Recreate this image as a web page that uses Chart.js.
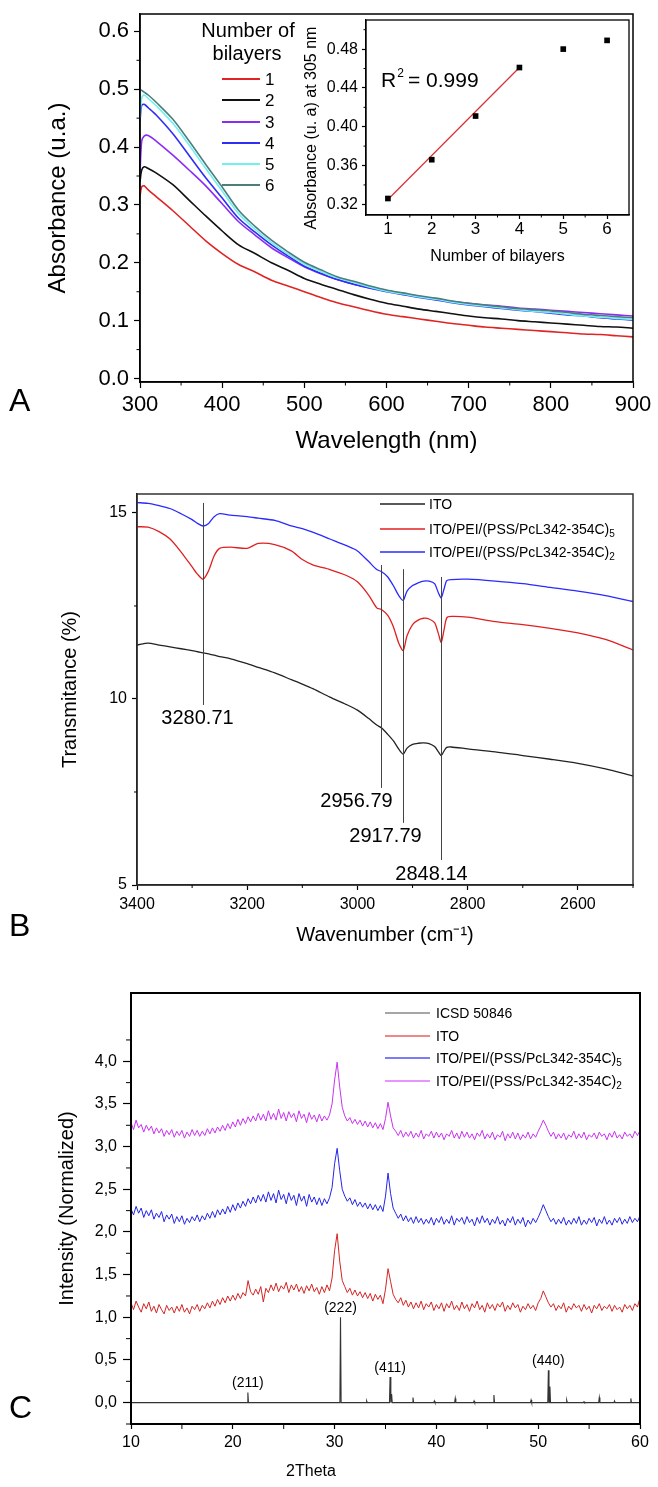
<!DOCTYPE html>
<html>
<head>
<meta charset="utf-8">
<script src="https://cdn.jsdelivr.net/npm/chart.js@4.4.1/dist/chart.umd.min.js"></script>
<style>
  body { margin: 0; background: #fff; width: 658px; height: 1487px; position: relative; overflow: hidden; font-family: "Liberation Sans", Arial, sans-serif; }
  canvas { position: absolute; left: 0; }
  .panel { position: absolute; left: 9px; font-size: 32px; line-height: 1; color: #000; }
</style>
</head>
<body>
<canvas id="chartA" width="658" height="470" style="top:0"></canvas>
<canvas id="inset" width="345" height="270" style="top:0;left:290px"></canvas>
<canvas id="chartB" width="658" height="490" style="top:470px"></canvas>
<canvas id="chartC" width="658" height="527" style="top:960px"></canvas>
<div class="panel" style="top:384px">A</div>
<div class="panel" style="top:909px">B</div>
<div class="panel" style="top:1391px">C</div>
<script>
// ---------- panel A : UV-vis absorbance ----------
const wavelength = [300, 302, 305, 310, 320, 340, 360, 380, 400, 420, 440, 460, 480, 500, 520, 540, 560,
  580, 600, 620, 640, 660, 680, 700, 720, 740, 760, 780, 800, 820, 840, 860, 880, 900];
const bilayer1 = [0.315, 0.331, 0.333, 0.326, 0.314, 0.290, 0.264, 0.238, 0.216, 0.197, 0.184, 0.170, 0.160, 0.150, 0.140, 0.131, 0.124,
  0.117, 0.111, 0.107, 0.103, 0.099, 0.095, 0.092, 0.089, 0.087, 0.085, 0.083, 0.081, 0.079, 0.077, 0.076, 0.074, 0.072];
const bilayer2 = [0.340, 0.360, 0.366, 0.363, 0.355, 0.335, 0.308, 0.281, 0.255, 0.231, 0.216, 0.200, 0.187, 0.173, 0.163, 0.154, 0.145,
  0.137, 0.130, 0.125, 0.120, 0.116, 0.112, 0.108, 0.105, 0.103, 0.100, 0.098, 0.096, 0.094, 0.092, 0.090, 0.089, 0.087];
const bilayer3 = [0.355, 0.410, 0.419, 0.420, 0.410, 0.386, 0.360, 0.333, 0.302, 0.271, 0.248, 0.226, 0.209, 0.193, 0.181, 0.171, 0.163,
  0.157, 0.151, 0.146, 0.141, 0.137, 0.133, 0.130, 0.127, 0.125, 0.122, 0.120, 0.118, 0.116, 0.114, 0.112, 0.110, 0.108];
const bilayer4 = [0.445, 0.472, 0.474, 0.468, 0.455, 0.423, 0.385, 0.347, 0.312, 0.277, 0.253, 0.231, 0.212, 0.194, 0.182, 0.171, 0.163,
  0.156, 0.150, 0.145, 0.140, 0.136, 0.131, 0.127, 0.124, 0.121, 0.118, 0.116, 0.113, 0.110, 0.108, 0.105, 0.103, 0.101];
const bilayer5 = [0.450, 0.485, 0.490, 0.484, 0.471, 0.441, 0.403, 0.363, 0.324, 0.285, 0.258, 0.235, 0.215, 0.198, 0.185, 0.174, 0.166,
  0.158, 0.151, 0.146, 0.141, 0.137, 0.132, 0.128, 0.125, 0.122, 0.119, 0.116, 0.114, 0.111, 0.108, 0.106, 0.104, 0.102];
const bilayer6 = [0.500, 0.498, 0.495, 0.490, 0.477, 0.448, 0.410, 0.370, 0.331, 0.291, 0.263, 0.239, 0.219, 0.201, 0.188, 0.176, 0.168,
  0.160, 0.153, 0.148, 0.143, 0.139, 0.134, 0.130, 0.127, 0.124, 0.121, 0.119, 0.117, 0.114, 0.111, 0.109, 0.107, 0.105];
const bilayerNames = ['1', '2', '3', '4', '5', '6'];
const bilayerColors = ['#e02424', '#111111', '#8a2cf5', '#2e2ef5', '#72f0f0', '#4c7e7e'];
const xTicksA = [300, 400, 500, 600, 700, 800, 900];
const xMinorA = [350, 450, 550, 650, 750, 850];
const yTicksA = [0.0, 0.1, 0.2, 0.3, 0.4, 0.5, 0.6];
const yMinorA = [0.05, 0.15, 0.25, 0.35, 0.45, 0.55];

// inset: absorbance at 305 nm
const bilayerCount = [1, 2, 3, 4, 5, 6];
const abs305 = [0.326, 0.366, 0.411, 0.461, 0.480, 0.489];
const fitX = [1, 4];
const fitY = [0.325, 0.461];
const xTicksIn = [1, 2, 3, 4, 5, 6];
const xMinorIn = [1.5, 2.5, 3.5, 4.5, 5.5];
const yTicksIn = [0.32, 0.36, 0.40, 0.44, 0.48];
const yMinorIn = [0.34, 0.38, 0.42, 0.46, 0.50];

// ---------- panel B : FTIR ----------
const wavenumber = [3400, 3380, 3360, 3340, 3320, 3300, 3290, 3280, 3270, 3260, 3250, 3230, 3200, 3180, 3150, 3120,
  3100, 3080, 3050, 3020, 3000, 2980, 2965, 2956, 2945, 2935, 2925, 2917, 2910, 2900, 2890, 2880, 2870, 2860,
  2853, 2848, 2843, 2838, 2830, 2800, 2750, 2700, 2650, 2600, 2550, 2500];
const transITO = [11.45, 11.50, 11.45, 11.40, 11.35, 11.30, 11.27, 11.24, 11.21, 11.18, 11.14, 11.08, 10.95, 10.85, 10.70, 10.52,
  10.40, 10.27, 10.05, 9.85, 9.70, 9.48, 9.30, 9.22, 9.05, 8.88, 8.65, 8.52, 8.68, 8.78, 8.81, 8.82, 8.80, 8.72,
  8.58, 8.48, 8.60, 8.70, 8.71, 8.66, 8.58, 8.48, 8.38, 8.27, 8.12, 7.93];
const trans5 = [14.63, 14.62, 14.50, 14.30, 13.95, 13.55, 13.35, 13.22, 13.45, 13.85, 14.05, 14.08, 14.05, 14.18, 14.15, 13.98,
  13.75, 13.60, 13.48, 13.32, 13.15, 12.80, 12.45, 12.40, 12.25, 11.95, 11.50, 11.30, 11.70, 12.00, 12.12, 12.17, 12.15, 12.05,
  11.75, 11.52, 11.85, 12.18, 12.22, 12.20, 12.08, 12.00, 11.90, 11.78, 11.60, 11.32];
const trans2 = [15.28, 15.26, 15.20, 15.12, 14.98, 14.82, 14.72, 14.65, 14.72, 14.90, 14.98, 14.94, 14.90, 14.86, 14.80, 14.65,
  14.58, 14.48, 14.30, 14.12, 13.98, 13.70, 13.48, 13.42, 13.28, 13.05, 12.78, 12.65, 12.90, 13.05, 13.12, 13.17, 13.17, 13.10,
  12.85, 12.72, 12.95, 13.18, 13.21, 13.22, 13.17, 13.10, 13.00, 12.90, 12.78, 12.62];
const ftirNames = ['ITO', 'ITO/PEI/(PSS/PcL342-354C)', 'ITO/PEI/(PSS/PcL342-354C)'];
const ftirSubs = ['', '5', '2'];
const ftirColors = ['#222222', '#e02020', '#2a2aff'];
const peakWavenumbers = [3280.71, 2956.79, 2917.79, 2848.14];
const peakLabels = ['3280.71', '2956.79', '2917.79', '2848.14'];
const xTicksB = [3400, 3200, 3000, 2800, 2600];
const xMinorB = [3300, 3100, 2900, 2700, 2500];
const yTicksB = [5, 10, 15];
const yMinorB = [7.5, 12.5];

// ---------- panel C : XRD (2theta from 10 to 60, every 0.25 deg) ----------
const xrdITO = [
  1.17,1.09,1.19,1.12,1.06,1.16,1.10,1.18,1.07,1.13,1.05,1.15,1.09,1.04,1.14,1.08,1.12,1.05,1.13,1.07,
  1.15,1.06,1.11,1.04,1.13,1.09,1.15,1.07,1.14,1.10,1.17,1.11,1.19,1.13,1.21,1.15,1.23,1.17,1.25,1.19,
  1.26,1.20,1.28,1.22,1.29,1.25,1.43,1.30,1.26,1.33,1.27,1.36,1.18,1.34,1.29,1.38,1.31,1.40,1.30,1.37,
  1.33,1.41,1.29,1.38,1.32,1.39,1.30,1.36,1.28,1.37,1.31,1.39,1.30,1.35,1.27,1.36,1.29,1.38,1.31,1.46,
  1.78,1.98,1.66,1.43,1.36,1.29,1.34,1.26,1.32,1.25,1.30,1.23,1.29,1.22,1.28,1.19,1.27,1.21,1.26,1.16,
  1.33,1.57,1.42,1.27,1.21,1.17,1.23,1.14,1.20,1.12,1.18,1.10,1.17,1.11,1.19,1.09,1.16,1.12,1.18,1.08,
  1.15,1.10,1.17,1.07,1.16,1.11,1.19,1.09,1.14,1.08,1.18,1.10,1.15,1.07,1.16,1.11,1.19,1.09,1.14,1.06,
  1.17,1.10,1.15,1.08,1.16,1.12,1.18,1.07,1.14,1.09,1.17,1.11,1.15,1.06,1.13,1.09,1.16,1.10,1.14,1.08,
  1.17,1.22,1.31,1.24,1.17,1.12,1.16,1.08,1.14,1.10,1.17,1.06,1.13,1.09,1.16,1.11,1.14,1.07,1.15,1.09,
  1.13,1.05,1.14,1.10,1.16,1.08,1.13,1.10,1.15,1.07,1.14,1.09,1.12,1.06,1.15,1.10,1.14,1.08,1.16,1.12,
  1.23];
const xrdFilm5 = [
  2.27,2.20,2.30,2.22,2.28,2.17,2.25,2.19,2.26,2.15,2.22,2.17,2.24,2.12,2.20,2.15,2.21,2.10,2.18,2.12,
  2.19,2.09,2.16,2.11,2.18,2.13,2.20,2.12,2.19,2.14,2.22,2.16,2.24,2.17,2.26,2.20,2.27,2.21,2.30,2.23,
  2.32,2.25,2.34,2.28,2.36,2.30,2.39,2.33,2.41,2.34,2.43,2.36,2.44,2.35,2.47,2.37,2.45,2.34,2.49,2.38,
  2.44,2.33,2.46,2.37,2.43,2.31,2.45,2.36,2.42,2.30,2.44,2.35,2.41,2.32,2.40,2.31,2.39,2.33,2.40,2.52,
  2.80,2.98,2.72,2.50,2.42,2.36,2.40,2.32,2.38,2.30,2.35,2.29,2.34,2.27,2.33,2.26,2.32,2.25,2.31,2.24,
  2.42,2.69,2.45,2.28,2.22,2.16,2.21,2.13,2.19,2.12,2.17,2.10,2.18,2.11,2.16,2.09,2.15,2.10,2.17,2.08,
  2.16,2.11,2.18,2.09,2.15,2.10,2.19,2.08,2.16,2.12,2.17,2.09,2.18,2.11,2.15,2.07,2.17,2.10,2.19,2.11,
  2.16,2.08,2.15,2.10,2.18,2.09,2.14,2.07,2.16,2.11,2.18,2.08,2.15,2.10,2.17,2.06,2.14,2.09,2.16,2.11,
  2.17,2.24,2.32,2.25,2.18,2.12,2.16,2.09,2.15,2.10,2.17,2.08,2.14,2.09,2.16,2.10,2.18,2.08,2.14,2.09,
  2.16,2.11,2.17,2.07,2.15,2.10,2.18,2.09,2.14,2.08,2.16,2.11,2.17,2.09,2.15,2.10,2.18,2.11,2.16,2.12,
  2.19];
const xrdFilm2 = [
  3.28,3.20,3.31,3.22,3.26,3.17,3.25,3.19,3.24,3.15,3.22,3.16,3.21,3.12,3.19,3.14,3.20,3.11,3.18,3.13,
  3.19,3.10,3.17,3.12,3.20,3.13,3.19,3.12,3.18,3.13,3.21,3.15,3.22,3.16,3.23,3.18,3.25,3.19,3.27,3.21,
  3.29,3.23,3.32,3.25,3.33,3.27,3.35,3.29,3.36,3.30,3.39,3.31,3.38,3.30,3.42,3.32,3.39,3.31,3.44,3.33,
  3.40,3.30,3.41,3.34,3.39,3.29,3.42,3.33,3.38,3.28,3.40,3.32,3.37,3.29,3.38,3.30,3.36,3.31,3.37,3.50,
  3.78,3.99,3.70,3.46,3.36,3.30,3.34,3.27,3.32,3.26,3.31,3.24,3.30,3.23,3.29,3.22,3.28,3.21,3.27,3.20,
  3.33,3.52,3.36,3.22,3.18,3.13,3.19,3.11,3.17,3.12,3.18,3.10,3.16,3.11,3.19,3.09,3.15,3.12,3.18,3.10,
  3.17,3.11,3.16,3.08,3.15,3.12,3.19,3.10,3.16,3.09,3.18,3.11,3.17,3.10,3.15,3.08,3.16,3.12,3.19,3.09,
  3.15,3.10,3.17,3.08,3.14,3.11,3.18,3.07,3.15,3.10,3.17,3.09,3.16,3.08,3.14,3.10,3.17,3.09,3.15,3.11,
  3.18,3.24,3.31,3.25,3.18,3.12,3.17,3.09,3.15,3.10,3.16,3.08,3.14,3.11,3.18,3.09,3.15,3.10,3.17,3.08,
  3.14,3.11,3.16,3.09,3.17,3.12,3.15,3.08,3.16,3.11,3.18,3.10,3.14,3.09,3.17,3.12,3.15,3.10,3.18,3.13,
  3.19];
const twoTheta = xrdITO.map((_, i) => 10 + i * 0.25);
// ICSD 50846 reference pattern (stick peaks)
const icsdPos = [21.48, 30.58, 33.15, 35.45, 35.6, 37.7, 39.8, 41.85, 43.7, 45.65, 49.3, 51.0, 51.15, 52.8, 54.5, 56.0, 57.5, 59.1];
const icsdHeight = [0.12, 1.0, 0.02, 0.30, 0.10, 0.06, 0.02, 0.05, 0.02, 0.09, 0.03, 0.38, 0.19, 0.03, 0.01, 0.06, 0.02, 0.05];
const hklLabels = ['(211)', '(222)', '(411)', '(440)'];
const hklPos = [21.48, 30.58, 35.45, 51.0];
const hklHeight = [0.12, 1.0, 0.30, 0.38];
const xrdNames = ['ICSD 50846', 'ITO', 'ITO/PEI/(PSS/PcL342-354C)', 'ITO/PEI/(PSS/PcL342-354C)'];
const xrdSubs = ['', '', '5', '2'];
const xrdColors = ['#333333', '#d42424', '#2424e8', '#c832f0'];
const xTicksC = [10, 20, 30, 40, 50, 60];
const xMinorC = [15, 25, 35, 45, 55];
const yTicksC = [0, 0.5, 1.0, 1.5, 2.0, 2.5, 3.0, 3.5, 4.0];
const yMinorC = [-0.25, 0.25, 0.75, 1.25, 1.75, 2.25, 2.75, 3.25, 3.75, 4.25];

// ---------- helpers ----------
const FONT = '"Liberation Sans", Arial, sans-serif';
Chart.defaults.font.family = FONT;
Chart.defaults.color = '#000';

function fixedBox(size, horizontal) {
  return s => {
    if (horizontal) s.height = size; else s.width = size;
    s.paddingTop = 0; s.paddingBottom = 0; s.paddingLeft = 0; s.paddingRight = 0;
  };
}

function axis(cfg) {
  return {
    type: 'linear',
    min: cfg.min, max: cfg.max, reverse: !!cfg.reverse,
    afterBuildTicks: s => { s.ticks = cfg.ticks.map(v => ({ value: v })); },
    afterFit: fixedBox(cfg.size, cfg.horizontal),
    grid: { drawOnChartArea: false, drawTicks: true, tickLength: cfg.tickLength, color: '#000', tickColor: '#000', tickWidth: 1.2 },
    border: { display: true, color: '#000', width: cfg.lineWidth || 1.5 },
    ticks: { autoSkip: false, maxRotation: 0, padding: cfg.pad, font: { size: cfg.tickFont }, color: '#000', callback: cfg.fmt },
    title: { display: !!cfg.title, text: cfg.title, color: '#000', font: { size: cfg.titleFont }, padding: cfg.titlePad }
  };
}

// frame box + short minor ticks
function framePlugin(minorX, minorY, len, width, color) {
  return {
    id: 'frame',
    afterDraw(chart) {
      const { ctx, chartArea: a, scales } = chart;
      ctx.save();
      ctx.strokeStyle = color || '#000';
      ctx.lineWidth = width;
      ctx.strokeRect(a.left, a.top, a.right - a.left, a.bottom - a.top);
      ctx.lineWidth = 1;
      ctx.strokeStyle = '#000';
      minorX.forEach(v => {
        const x = scales.x.getPixelForValue(v);
        ctx.beginPath(); ctx.moveTo(x, a.bottom); ctx.lineTo(x, a.bottom + len); ctx.stroke();
      });
      minorY.forEach(v => {
        const y = scales.y.getPixelForValue(v);
        ctx.beginPath(); ctx.moveTo(a.left, y); ctx.lineTo(a.left - len, y); ctx.stroke();
      });
      ctx.restore();
    }
  };
}

function drawSubLabel(ctx, text, sub, x, y, size) {
  ctx.font = size + 'px ' + FONT;
  ctx.fillText(text, x, y);
  if (sub) {
    const w = ctx.measureText(text).width;
    ctx.font = Math.round(size * 0.72) + 'px ' + FONT;
    ctx.fillText(sub, x + w, y + size * 0.3);
  }
}

function lineLegend(id, names, subs, colors, x0, x1, tx, rows, size, lw) {
  return {
    id,
    afterDraw(chart) {
      const ctx = chart.ctx;
      ctx.save();
      ctx.textAlign = 'left';
      ctx.textBaseline = 'middle';
      ctx.fillStyle = '#000';
      names.forEach((n, i) => {
        ctx.strokeStyle = colors[i];
        ctx.lineWidth = lw;
        ctx.beginPath(); ctx.moveTo(x0, rows[i]); ctx.lineTo(x1, rows[i]); ctx.stroke();
        drawSubLabel(ctx, n, subs[i], tx, rows[i] + 1, size);
      });
      ctx.restore();
    }
  };
}

// free text (rotated or not) in canvas pixels
function textPlugin(id, text, x, y, size, rotate) {
  return {
    id,
    afterDraw(chart) {
      const ctx = chart.ctx;
      ctx.save();
      ctx.translate(x, y);
      if (rotate) ctx.rotate(-Math.PI / 2);
      ctx.fillStyle = '#000';
      ctx.font = size + 'px ' + FONT;
      ctx.textAlign = 'center';
      ctx.textBaseline = 'middle';
      ctx.fillText(text, 0, 0);
      ctx.restore();
    }
  };
}

const xy = (xs, ys) => ys.map((v, i) => ({ x: xs[i], y: v }));
const base = { responsive: false, animation: false, devicePixelRatio: 1, plugins: { legend: { display: false }, tooltip: { enabled: false } } };

// ---------- chart A ----------
const seriesA = [bilayer1, bilayer2, bilayer3, bilayer4, bilayer5, bilayer6];
new Chart(document.getElementById('chartA'), {
  type: 'line',
  data: {
    datasets: seriesA.map((vals, i) => ({
      label: bilayerNames[i], data: xy(wavelength, vals), borderColor: bilayerColors[i],
      borderWidth: 1.6, pointRadius: 0, tension: 0.3, fill: false
    })).reverse()
  },
  options: {
    ...base,
    layout: { padding: { left: 0, right: 25, top: 14, bottom: 0 } },
    scales: {
      x: axis({ min: 300, max: 900, ticks: xTicksA, size: 88, horizontal: true, tickLength: 6, pad: 4, tickFont: 22,
        fmt: v => String(v), title: 'Wavelength (nm)', titleFont: 24, titlePad: { top: 0, bottom: 14 } }),
      y: axis({ min: -0.006, max: 0.63, ticks: yTicksA, size: 140, tickLength: 6, pad: 5, tickFont: 22,
        fmt: v => v.toFixed(1), title: 'Absorbance (u.a.)', titleFont: 24, titlePad: { top: 44, bottom: 0 } })
    }
  },
  plugins: [
    framePlugin(xMinorA, yMinorA, 3.5, 1.5),
    textPlugin('legendTitle1', 'Number of', 248, 31, 20, false),
    textPlugin('legendTitle2', 'bilayers', 247, 54, 20, false),
    lineLegend('entriesA', bilayerNames, ['', '', '', '', '', ''], bilayerColors, 222, 260, 265,
      [79, 100, 122, 143, 164, 185], 17, 2)
  ]
});

// ---------- inset ----------
new Chart(document.getElementById('inset'), {
  type: 'scatter',
  data: {
    datasets: [
      { data: xy(bilayerCount, abs305), backgroundColor: '#000', borderColor: '#000', pointStyle: 'rect', pointRadius: 4, borderWidth: 0 },
      { data: xy(fitX, fitY), showLine: true, borderColor: '#d83030', borderWidth: 1.2, pointRadius: 0 }
    ]
  },
  options: {
    ...base,
    layout: { padding: { left: 0, right: 6, top: 20, bottom: 0 } },
    scales: {
      x: axis({ min: 0.5, max: 6.5, ticks: xTicksIn, size: 55, horizontal: true, tickLength: 4, pad: 0, tickFont: 17,
        fmt: v => String(v), title: 'Number of bilayers', titleFont: 16, titlePad: { top: 0, bottom: 4 }, lineWidth: 1.2 }),
      y: axis({ min: 0.309, max: 0.51, ticks: yTicksIn, size: 76, tickLength: 4, pad: 4, tickFont: 16,
        fmt: v => v.toFixed(2), title: '', lineWidth: 1.2 })
    }
  },
  plugins: [
    framePlugin(xMinorIn, yMinorIn, 2.5, 1.3),
    textPlugin('insetYTitle', 'Absorbance (u. a) at 305 nm', 22, 128, 16, true),
    {
      id: 'r2',
      afterDraw(chart) {
        const ctx = chart.ctx;
        ctx.save();
        ctx.fillStyle = '#000';
        ctx.textBaseline = 'alphabetic';
        ctx.textAlign = 'left';
        ctx.font = '21px ' + FONT;
        ctx.fillText('R', 91, 87);
        const w = ctx.measureText('R').width;
        ctx.font = '12px ' + FONT;
        ctx.fillText('2', 91 + w + 1, 77);
        ctx.font = '21px ' + FONT;
        ctx.fillText(' = 0.999', 91 + w + 6, 87);
        ctx.restore();
      }
    }
  ]
});

// ---------- chart B ----------
const seriesB = [transITO, trans5, trans2];
new Chart(document.getElementById('chartB'), {
  type: 'line',
  data: {
    datasets: seriesB.map((vals, i) => ({
      label: ftirNames[i] + ftirSubs[i], data: xy(wavenumber, vals), borderColor: ftirColors[i],
      borderWidth: 1.3, pointRadius: 0, tension: 0.25, fill: false
    }))
  },
  options: {
    ...base,
    layout: { padding: { left: 0, right: 25, top: 24, bottom: 0 } },
    scales: {
      x: axis({ min: 2500, max: 3400, reverse: true, ticks: xTicksB, size: 75, horizontal: true, tickLength: 5, pad: 5, tickFont: 16,
        fmt: v => String(v), title: 'Wavenumber (cm⁻¹)', titleFont: 20, titlePad: { top: 0, bottom: 13 } }),
      y: axis({ min: 5, max: 15.51, ticks: yTicksB, size: 137, tickLength: 5, pad: 5, tickFont: 16,
        fmt: v => String(v), title: 'Transmitance (%)', titleFont: 20, titlePad: { top: 58, bottom: 0 } })
    }
  },
  plugins: [
    framePlugin(xMinorB, yMinorB, 3, 1.5, '#333'),
    lineLegend('legendB', ftirNames, ftirSubs, ftirColors, 380, 425, 429, [34, 59, 82], 14, 1.3),
    {
      id: 'peaksB',
      afterDraw(chart) {
        const { ctx, scales } = chart;
        const tops = [15.27, 13.60, 13.49, 13.28];
        const bottoms = [9.84, 7.61, 6.67, 5.67];
        const dx = [-6, -25, -18, -10];
        ctx.save();
        ctx.strokeStyle = '#444';
        ctx.lineWidth = 1;
        ctx.fillStyle = '#000';
        ctx.font = '20px ' + FONT;
        ctx.textAlign = 'center';
        ctx.textBaseline = 'middle';
        peakWavenumbers.forEach((p, i) => {
          const x = Math.round(scales.x.getPixelForValue(p)) + 0.5;
          const y0 = scales.y.getPixelForValue(tops[i]);
          const y1 = scales.y.getPixelForValue(bottoms[i]);
          ctx.beginPath(); ctx.moveTo(x, y0); ctx.lineTo(x, y1); ctx.stroke();
          ctx.fillText(peakLabels[i], x + dx[i], y1 + 14);
        });
        ctx.restore();
      }
    }
  ]
});

// ---------- chart C ----------
const icsdData = [{ x: 10, y: 0 }];
icsdPos.forEach((p, i) => {
  icsdData.push({ x: p - 0.06, y: 0 }, { x: p, y: icsdHeight[i] }, { x: p + 0.06, y: 0 });
});
icsdData.push({ x: 60, y: 0 });
const seriesC = [xrdITO, xrdFilm5, xrdFilm2];
new Chart(document.getElementById('chartC'), {
  type: 'line',
  data: {
    datasets: [
      { label: xrdNames[0], data: icsdData, borderColor: xrdColors[0], borderWidth: 1.1, pointRadius: 0, tension: 0 }
    ].concat(seriesC.map((vals, i) => ({
      label: xrdNames[i + 1] + xrdSubs[i + 1], data: xy(twoTheta, vals), borderColor: xrdColors[i + 1],
      borderWidth: 1, pointRadius: 0, tension: 0
    })))
  },
  options: {
    ...base,
    layout: { padding: { left: 0, right: 18, top: 33, bottom: 0 } },
    scales: {
      x: axis({ min: 10, max: 60, ticks: xTicksC, size: 63, horizontal: true, tickLength: 5, pad: 4, tickFont: 16,
        fmt: v => String(v), title: '', lineWidth: 2 }),
      y: axis({ min: -0.25, max: 4.8, ticks: yTicksC, size: 131, tickLength: 8, pad: 6, tickFont: 16,
        fmt: v => v.toFixed(1).replace('.', ','), title: 'Intensity (Normalized)', titleFont: 20, titlePad: { top: 55, bottom: 0 }, lineWidth: 2 })
    }
  },
  plugins: [
    framePlugin(xMinorC, yMinorC, 5, 2),
    textPlugin('xTitleC', '2Theta', 311, 512, 16, false),
    lineLegend('legendC', xrdNames, xrdSubs, ['#888888', '#e86060', '#5050f0', '#e070ff'], 385, 430, 436, [53, 76, 98, 121], 14, 1.3),
    {
      id: 'hkl',
      afterDraw(chart) {
        const { ctx, scales } = chart;
        ctx.save();
        ctx.fillStyle = '#000';
        ctx.font = '14px ' + FONT;
        ctx.textAlign = 'center';
        ctx.textBaseline = 'middle';
        hklLabels.forEach((t, i) => {
          ctx.fillText(t, scales.x.getPixelForValue(hklPos[i]), scales.y.getPixelForValue(hklHeight[i]) - 9);
        });
        ctx.restore();
      }
    }
  ]
});
</script>
</body>
</html>
